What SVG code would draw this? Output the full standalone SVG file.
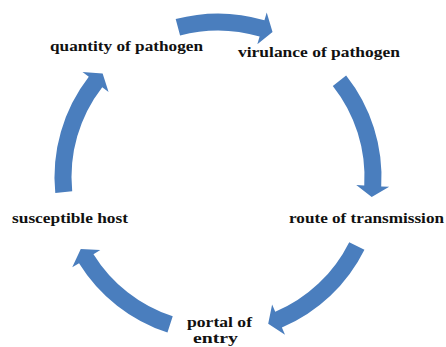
<svg xmlns="http://www.w3.org/2000/svg" width="446" height="347" viewBox="0 0 446 347">
<style>
.arr{fill:#4a7ebe}
.lbl{fill:#111}
</style>
<rect width="446" height="347" fill="#fff"/>
<g id="connectors" class="arr">
<path transform="translate(218,177) rotate(255)" d="M163.5 0 A163.5 163.5 0 0 1 139.40 85.43 L146.22 89.61 L126.03 90.23 L118.09 72.37 L124.91 76.55 A146.5 146.5 0 0 0 146.5 0 Z"/>
<path transform="translate(218,177) rotate(-38.4)" d="M163.5 0 A163.5 163.5 0 0 1 122.07 108.76 L128.04 114.08 L108.07 111.12 L103.40 92.13 L109.38 97.45 A146.5 146.5 0 0 0 146.5 0 Z"/>
<path transform="translate(218,177) rotate(26.4)" d="M163.5 0 A163.5 163.5 0 0 1 124.15 106.41 L130.22 111.61 L110.17 109.03 L105.16 90.14 L111.24 95.34 A146.5 146.5 0 0 0 146.5 0 Z"/>
<path transform="translate(218,177) rotate(108)" d="M163.5 0 A163.5 163.5 0 0 1 124.88 105.54 L130.99 110.70 L110.93 108.25 L105.79 89.40 L111.90 94.57 A146.5 146.5 0 0 0 146.5 0 Z"/>
<path transform="translate(218,177) rotate(174.4)" d="M163.5 0 A163.5 163.5 0 0 1 118.80 112.34 L124.61 117.84 L104.72 114.28 L100.63 95.16 L106.45 100.66 A146.5 146.5 0 0 0 146.5 0 Z"/>
</g>
<g font-family="Liberation Serif, serif" font-size="15" font-weight="bold" class="lbl">
<g id="quantity"><text x="50" y="51" textLength="153" lengthAdjust="spacingAndGlyphs">quantity of pathogen</text></g>
<g id="virulance"><text x="238" y="57" textLength="162" lengthAdjust="spacingAndGlyphs">virulance of pathogen</text></g>
<g id="route"><text x="289" y="223" textLength="155" lengthAdjust="spacingAndGlyphs">route of transmission</text></g>
<g id="portal"><text x="187" y="327" textLength="65" lengthAdjust="spacingAndGlyphs">portal of</text><text x="193" y="343" textLength="45" lengthAdjust="spacingAndGlyphs">entry</text></g>
<g id="host"><text x="12" y="223" textLength="116" lengthAdjust="spacingAndGlyphs">susceptible host</text></g>
</g>
</svg>
